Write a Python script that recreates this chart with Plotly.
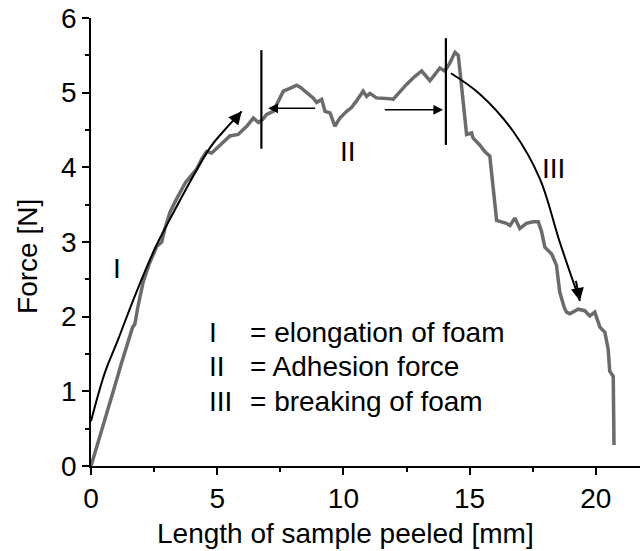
import plotly.graph_objects as go

# peel curve (mm, N)
length_mm = [0.0, 0.3, 0.6, 0.9, 1.2, 1.5, 1.65, 1.74, 1.85, 2.07, 2.3, 2.6, 2.8, 2.93, 3.13, 3.35,
             3.52, 3.75, 3.92, 4.19, 4.4, 4.58, 4.78, 5.0, 5.24, 5.5, 5.83, 6.0, 6.17, 6.43, 6.63,
             6.8, 6.96, 7.22, 7.4, 7.62, 7.9, 8.15, 8.3, 8.48, 8.8, 8.94, 9.14, 9.27, 9.47, 9.66,
             9.86, 10.13, 10.32, 10.52, 10.78, 10.92, 11.05, 11.31, 11.6, 11.84, 11.97, 12.24,
             12.5, 12.77, 13.1, 13.43, 13.82, 14.02, 14.22, 14.42, 14.55, 14.63, 14.75, 14.88,
             15.08, 15.14, 15.4, 15.6, 15.8, 15.93, 16.07, 16.26, 16.46, 16.6, 16.79, 16.99,
             17.25, 17.52, 17.72, 17.85, 17.98, 18.25, 18.44, 18.57, 18.75, 18.84, 18.97, 19.3,
             19.56, 19.76, 19.96, 20.16, 20.36, 20.49, 20.55, 20.69, 20.72]
force_n = [0.0, 0.33, 0.68, 1.02, 1.37, 1.72, 1.86, 1.9, 2.12, 2.47, 2.7, 2.94, 3.0, 3.18, 3.4, 3.55,
           3.65, 3.8, 3.87, 3.98, 4.12, 4.21, 4.19, 4.26, 4.33, 4.42, 4.44, 4.5, 4.55, 4.66, 4.6,
           4.64, 4.71, 4.75, 4.88, 5.02, 5.06, 5.1, 5.07, 5.02, 4.93, 4.87, 4.91, 4.75, 4.73, 4.55,
           4.66, 4.75, 4.8, 4.89, 5.02, 4.95, 4.99, 4.93, 4.93, 4.92, 4.91, 5.02,
           5.11, 5.2, 5.29, 5.16, 5.33, 5.29, 5.4, 5.54, 5.5, 5.25, 4.85, 4.44,
           4.46, 4.39, 4.3, 4.21, 4.15, 3.72, 3.29, 3.27, 3.25, 3.22, 3.32, 3.18,
           3.25, 3.27, 3.27, 3.14, 2.93, 2.84, 2.69, 2.33, 2.12, 2.06, 2.04, 2.1,
           2.08, 2.01, 2.06, 1.86, 1.79, 1.56, 1.27, 1.2, 0.28]

# annotation guides
arc1_x = [0.0, 0.55, 1.08, 1.74, 2.53, 2.93, 4.71, 5.24, 5.97]
arc1_y = [0.6, 1.25, 1.7, 2.28, 2.91, 3.18, 4.26, 4.48, 4.75]
arc3_x = [14.26, 15.41, 16.73, 17.78, 18.57, 19.37]
arc3_y = [5.26, 4.98, 4.48, 3.85, 3.0, 2.21]
marker_x = [6.75, 14.06]
marker_y0 = [4.25, 4.30]
marker_y1 = [5.57, 5.73]
region_labels = ["I", "II", "III"]
region_label_x = [1.04, 10.17, 18.31]
region_label_y = [2.64, 4.21, 3.99]
legend_keys = ["I", "II", "III"]
legend_texts = ["= elongation of foam", "= Adhesion force", "= breaking of foam"]
legend_y = [1.79, 1.33, 0.86]

FONT = "Liberation Sans, Arial, sans-serif"
FS = 28
fig = go.Figure()
fig.add_trace(go.Scatter(x=length_mm, y=force_n, mode="lines",
                         line=dict(color="#6b6b6b", width=3.5), showlegend=False))
fig.add_trace(go.Scatter(x=arc1_x, y=arc1_y, mode="lines", line=dict(color="black", width=2, shape="spline"),
                         showlegend=False))
fig.add_trace(go.Scatter(x=arc3_x, y=arc3_y, mode="lines", line=dict(color="black", width=2, shape="spline"),
                         showlegend=False))
for mx, y0, y1 in zip(marker_x, marker_y0, marker_y1):
    fig.add_trace(go.Scatter(x=[mx, mx], y=[y0, y1], mode="lines", line=dict(color="black", width=2.2),
                             showlegend=False))

def arrow(x, y, ax, ay, w=1.5):
    fig.add_annotation(x=x, y=y, ax=ax, ay=ay, xref="x", yref="y", axref="x", ayref="y",
                       text="", showarrow=True, arrowhead=2, arrowsize=1.3, arrowwidth=w, arrowcolor="black")

arrow(7.02, 4.79, 8.94, 4.79)
arrow(13.95, 4.77, 11.58, 4.77)
arrow(arc1_x[-1], arc1_y[-1], 5.6, 4.6, 2)
arrow(arc3_x[-1], arc3_y[-1], 19.2, 2.5, 2)

for t, x, y in zip(region_labels, region_label_x, region_label_y):
    fig.add_annotation(x=x, y=y, text=t, showarrow=False, font=dict(family=FONT, size=FS, color="black"))
for k, t, y in zip(legend_keys, legend_texts, legend_y):
    fig.add_annotation(x=4.59, y=y, text=k, showarrow=False, xanchor="left",
                       font=dict(family=FONT, size=FS, color="black"))
    fig.add_annotation(x=6.2, y=y, text=t, showarrow=False, xanchor="left",
                       font=dict(family=FONT, size=FS, color="black"))

fig.add_annotation(x=10.1, y=0, xref="x", yref="paper", yshift=-67, yanchor="middle",
                   text="Length of sample peeled [mm]",
                   showarrow=False, font=dict(family=FONT, size=FS, color="black"))
fig.add_annotation(x=0, y=2.8, xref="paper", yref="y", xshift=-63, xanchor="center", yanchor="middle",
                   textangle=-90, text="Force [N]",
                   showarrow=False, font=dict(family=FONT, size=FS, color="black"))

axis_common = dict(showgrid=False, zeroline=False, showline=True, linecolor="black", linewidth=1.5,
                   ticks="outside", ticklen=7, tickwidth=1.5, tickcolor="black",
                   tickfont=dict(family=FONT, size=FS, color="black"))
fig.update_xaxes(range=[0, 21.75], tickvals=[0, 5, 10, 15, 20],
                 minor=dict(ticks="outside", ticklen=4, tickwidth=1.5, tickcolor="black", dtick=2.5),
                 **axis_common)
fig.update_yaxes(range=[0, 6], tickvals=[0, 1, 2, 3, 4, 5, 6],
                 minor=dict(ticks="outside", ticklen=4, tickwidth=1.5, tickcolor="black", dtick=0.5),
                 **axis_common)
fig.update_layout(width=640, height=551, margin=dict(l=91, r=0, t=18, b=85),
                  paper_bgcolor="white", plot_bgcolor="white")
fig.write_html("out.html")
